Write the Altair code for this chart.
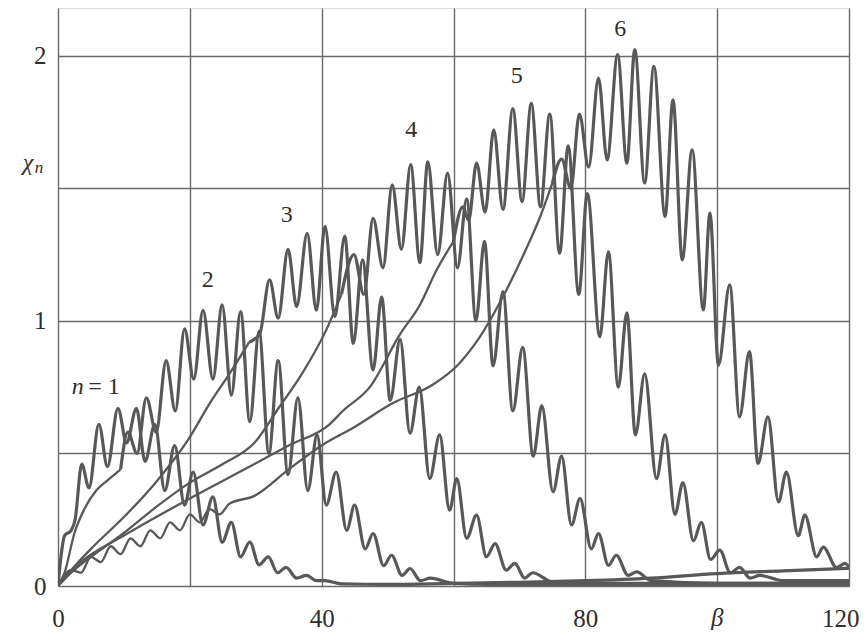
import altair as alt
import pandas as pd

# ---- data (peaks / troughs / smooth branches) ----
c1_b = [0, 0.4, 1.0, 2.0, 2.6, 3.6, 4.7, 6.2, 7.5, 9.1, 10.4, 11.9, 13.2, 14.7, 16.2, 17.7, 19.2, 20.5, 22.0,
        23.5, 24.9, 26.3, 27.7, 29.1, 30.5, 31.9, 33.3, 34.6, 36.2, 37.7, 39.2, 40.5, 43, 50, 60, 70, 80, 90, 100, 110, 120]
c1_v = [0, 0.10, 0.19, 0.21, 0.25, 0.46, 0.37, 0.61, 0.45, 0.67, 0.54, 0.67, 0.47, 0.61, 0.36, 0.53, 0.305, 0.43, 0.23,
        0.336, 0.165, 0.24, 0.11, 0.166, 0.08, 0.11, 0.05, 0.07, 0.03, 0.04, 0.02, 0.02, 0.008, 0.006, 0.01, 0.014, 0.02, 0.03, 0.047, 0.057, 0.067]

c2_b = [0, 1, 2.5, 4, 5.8, 7.6, 9.5, 10.6, 12.0, 13.4, 14.9, 16.4, 17.8, 19.2, 20.6, 22.0, 23.5, 24.9, 26.3, 27.7,
        29.1, 30.5, 32.0, 33.4, 34.9, 36.4, 37.9, 39.3, 40.7, 42.2, 43.8, 45.0, 46.6, 47.8, 49.4, 50.6, 52.2, 53.4,
        55.0, 56.5, 60, 70, 120]
c2_v = [0, 0.05, 0.20, 0.29, 0.36, 0.40, 0.44, 0.58, 0.50, 0.71, 0.58, 0.85, 0.66, 0.97, 0.78, 1.04, 0.78, 1.06, 0.72, 1.035,
        0.62, 0.96, 0.50, 0.85, 0.42, 0.71, 0.36, 0.57, 0.305, 0.43, 0.21, 0.305, 0.14, 0.198, 0.077, 0.116, 0.04, 0.066,
        0.02, 0.03, 0.01, 0.005, 0.005]

c3_b = [0, 2, 5, 10, 14.7, 19.7, 23.3, 26, 29, 30.6, 32.1, 33.4, 34.9, 36.2, 37.8, 39.2, 40.5, 42.0, 43.5, 44.8, 46.2,
        47.8, 49.1, 50.4, 51.9, 53.4, 54.8, 56.4, 57.9, 59.4, 60.5, 62.0, 63.5, 65.0, 66.3, 68.0, 69.3, 70.8, 72.0, 75, 80, 120]
c3_v = [0, 0.06, 0.14, 0.26, 0.387, 0.55, 0.70, 0.80, 0.92, 0.95, 1.155, 1.01, 1.27, 1.054, 1.33, 1.04, 1.356, 1.016, 1.32, 0.915, 1.23,
        0.815, 1.09, 0.70, 0.93, 0.576, 0.75, 0.405, 0.57, 0.286, 0.405, 0.18, 0.267, 0.11, 0.16, 0.06, 0.085, 0.03, 0.05, 0.015, 0.01, 0.01]

c4_b = [0, 2, 5, 10, 15, 20, 25, 29.8, 33.6, 37, 40.7, 43, 44.9, 46.4, 47.8, 49.3, 50.7, 52.1, 53.5, 54.9, 56.1, 57.6,
        59.1, 60.6, 62.0, 63.4, 64.7, 66.0, 67.5, 69.0, 70.5, 72.1, 73.4, 75.1, 76.4, 77.9, 79.2, 80.9, 82.0, 83.5, 84.7,
        86.5, 87.8, 90, 100, 120]
c4_v = [0, 0.05, 0.11, 0.2, 0.3, 0.39, 0.46, 0.54, 0.676, 0.80, 0.966, 1.10, 1.25, 1.10, 1.387, 1.20, 1.513, 1.27, 1.589, 1.22, 1.60, 1.25,
        1.557, 1.20, 1.46, 1.00, 1.30, 0.83, 1.11, 0.66, 0.90, 0.49, 0.68, 0.355, 0.49, 0.23, 0.33, 0.14, 0.198, 0.078, 0.116,
        0.04, 0.053, 0.02, 0.01, 0.01]

c5_b = [0, 3, 10, 20, 29.8, 35, 41.2, 43.2, 47.3, 51.9, 54.9, 57.4, 60, 61.4, 62.3, 63.5, 64.8, 66.1, 67.5, 69.0, 70.4,
        71.8, 73.2, 74.6, 76.1, 77.4, 79.0, 80.3, 82.2, 83.5, 85.0, 86.3, 87.6, 89.0, 90.8, 92.1, 93.6, 94.8, 96.4, 97.6,
        99.0, 100.4, 102.0, 103.4, 105.0, 106.5, 110, 120]
c5_v = [0, 0.08, 0.19, 0.33, 0.46, 0.53, 0.61, 0.66, 0.75, 0.95, 1.06, 1.19, 1.30, 1.43, 1.38, 1.595, 1.41, 1.72, 1.42, 1.80, 1.45,
        1.82, 1.43, 1.78, 1.255, 1.66, 1.10, 1.48, 0.94, 1.26, 0.75, 1.03, 0.57, 0.80, 0.405, 0.57, 0.27, 0.39, 0.17, 0.24,
        0.10, 0.135, 0.05, 0.07, 0.03, 0.04, 0.02, 0.02]

c6_b = [0, 2, 3.5, 5, 6.5, 8, 9.5, 11, 12.5, 14, 15.5, 17, 18.5, 20, 21.5, 23, 24.5, 26, 29.8, 35, 40, 45, 50.8, 56.9,
        60.5, 64, 68.1, 71, 73.1, 75, 76.4, 77.8, 79.1, 80.5, 82.0, 83.3, 84.9, 86.3, 87.5, 89.0, 90.4, 92.1, 93.3, 94.7,
        96.2, 97.9, 98.9, 100.2, 101.9, 103.4, 104.9, 106.2, 107.7, 109.3, 110.5, 112.3, 113.3, 115.1, 116.1, 118.1, 119.4, 120]
c6_v = [0, 0.06, 0.05, 0.11, 0.09, 0.15, 0.12, 0.18, 0.15, 0.21, 0.18, 0.24, 0.21, 0.27, 0.24, 0.29, 0.27, 0.31, 0.34, 0.44, 0.53, 0.60, 0.69, 0.76,
        0.83, 0.94, 1.12, 1.27, 1.39, 1.52, 1.61, 1.50, 1.78, 1.58, 1.916, 1.607, 2.004, 1.595, 2.023, 1.52, 1.96, 1.394, 1.834, 1.23,
        1.645, 1.041, 1.406, 0.833, 1.136, 0.638, 0.884, 0.462, 0.638, 0.317, 0.43, 0.19, 0.267, 0.11, 0.147, 0.07, 0.085, 0.07]

curves = {"1": (c1_b, c1_v), "2": (c2_b, c2_v), "3": (c3_b, c3_v),
          "4": (c4_b, c4_v), "5": (c5_b, c5_v), "6": (c6_b, c6_v)}

# beta where each curve leaves its smooth rising branch and starts to oscillate
osc_from = {"1": 0.0, "2": 9.5, "3": 29.0, "4": 43.0, "5": 60.0, "6": 75.0}

lab_text = ["2", "3", "4", "5", "6"]
lab_x = [22.7, 34.7, 53.6, 69.6, 85.3]
lab_y = [1.154, 1.40, 1.72, 1.925, 2.10]

x_ticks = [0, 20, 40, 60, 80, 100, 120]
y_ticks = [0, 0.5, 1, 1.5, 2]

rows = []
for name, (bs, vs) in curves.items():
    cut = osc_from[name]
    for i, (b, v) in enumerate(zip(bs, vs)):
        if b <= cut:
            rows.append({"curve": name, "part": "rise", "i": i, "beta": b, "chi": v})
        if b >= cut:
            rows.append({"curve": name, "part": "osc", "i": i, "beta": b, "chi": v})
df = pd.DataFrame(rows)
df["key"] = df["curve"] + df["part"]
labels = pd.DataFrame({"t": lab_text, "beta": lab_x, "chi": lab_y})

W, H = 791, 578
INK = "#585858"
TXT = "#2e2e2e"
SERIF = "Liberation Serif"

xs = alt.Scale(domain=[0, 120], nice=False, zero=False)
ys = alt.Scale(domain=[0, 2.18], nice=False, zero=False)

xaxis = alt.Axis(values=x_ticks, labelExpr="datum.value % 40 == 0 ? datum.label : ''",
                 ticks=False, domain=False, grid=True, gridColor="#6a6a6a", gridWidth=1.4,
                 labelFont=SERIF, labelFontSize=25, labelColor=TXT, labelPadding=20,
                 labelFlush=False, labelOverlap=False, labelBound=False,
                 labelAlign={"condition": {"test": "datum.value == 120", "value": "right"}, "value": "center"},
                 labelOffset={"condition": {"test": "datum.value == 120", "value": 10}, "value": 0},
                 title=None)
yaxis = alt.Axis(values=y_ticks, labelExpr="datum.value % 1 == 0 ? format(datum.value, 'd') : ''",
                 ticks=False, domain=False, grid=True, gridColor="#6a6a6a", gridWidth=1.4,
                 labelFont=SERIF, labelFontSize=25, labelColor=TXT, labelPadding=12,
                 labelOverlap=False, title=None)

lines = alt.Chart(df).mark_line(interpolate="monotone", color=INK, clip=True).encode(
    x=alt.X("beta:Q", scale=xs, axis=xaxis),
    y=alt.Y("chi:Q", scale=ys, axis=yaxis),
    detail="key:N",
    order="i:Q",
    strokeWidth=alt.StrokeWidth("part:N", scale=alt.Scale(domain=["rise", "osc"], range=[2.3, 3.2]), legend=None),
)

num = alt.Chart(labels).mark_text(font=SERIF, fontSize=24, color=TXT).encode(
    x=alt.X("beta:Q", scale=xs), y=alt.Y("chi:Q", scale=ys), text="t:N")

n_lab = alt.Chart(pd.DataFrame({"beta": [3.0], "chi": [0.75]})).mark_text(
    font=SERIF, fontSize=24, fontStyle="italic", color=TXT).encode(
    x=alt.X("beta:Q", scale=xs), y=alt.Y("chi:Q", scale=ys), text=alt.value("n"))
eq_lab = alt.Chart(pd.DataFrame({"beta": [4.6], "chi": [0.75]})).mark_text(
    font=SERIF, fontSize=24, align="left", color=TXT).encode(
    x=alt.X("beta:Q", scale=xs), y=alt.Y("chi:Q", scale=ys), text=alt.value("= 1"))

beta_t = alt.Chart(pd.DataFrame({"beta": [100]})).mark_text(
    font=SERIF, fontSize=25, fontStyle="italic", color=TXT, baseline="top").encode(
    x=alt.X("beta:Q", scale=xs), y=alt.value(H + 20), text=alt.value("β"))
chi_t = alt.Chart(pd.DataFrame({"a": [0]})).mark_text(
    font=SERIF, fontSize=24, fontStyle="italic", color=TXT).encode(
    x=alt.value(-30), y=alt.value(155), text=alt.value("χ"))
chi_n = alt.Chart(pd.DataFrame({"a": [0]})).mark_text(
    font=SERIF, fontSize=17, fontStyle="italic", color=TXT).encode(
    x=alt.value(-19), y=alt.value(160), text=alt.value("n"))

chart = alt.layer(lines, num, n_lab, eq_lab, beta_t, chi_t, chi_n).properties(
    width=W, height=H,
    autosize=alt.AutoSizeParams(type="none"),
    padding={"left": 50, "top": 0, "right": 10, "bottom": 44},
).configure_view(stroke="#666666", strokeWidth=1.5).configure(background="white")

chart.save("out.html", embed_options={"renderer": "svg", "actions": False})
